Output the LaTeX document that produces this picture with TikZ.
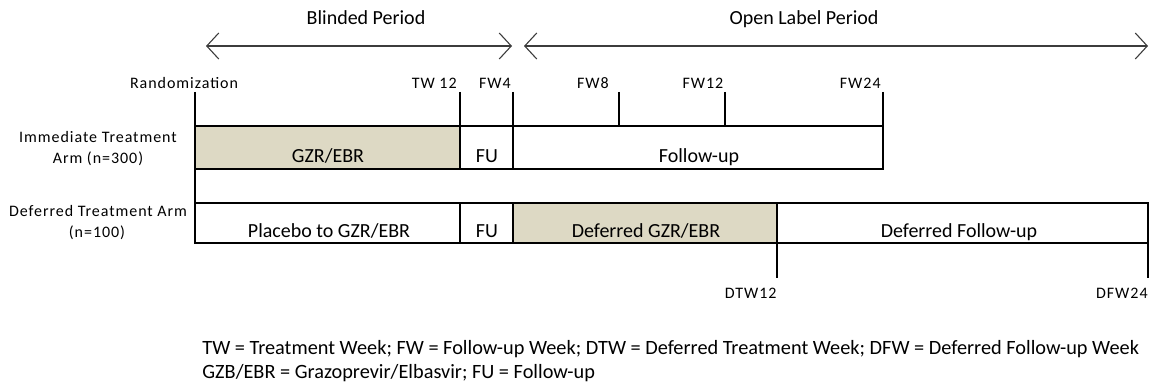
\documentclass[tikz,border=0pt]{standalone}
\usepackage{fontspec}
\setmainfont{Carlito}
\usetikzlibrary{arrows.meta}
\definecolor{drugfill}{RGB}{221,217,196}
\definecolor{periodgray}{RGB}{60,60,60}
\def\tickrow{84}
\def\ticktop{92}

\begin{document}
\begin{tikzpicture}[x=0.5pt, y=-0.5pt,
    bar/.style={line width=0.85pt},
    big/.style={font=\fontsize{10}{12}\selectfont, anchor=mid, inner sep=0pt},
    small/.style={font=\fontsize{8}{10}\selectfont\addfontfeature{LetterSpace=6}, anchor=mid, inner sep=0pt},
    note/.style={font=\fontsize{10.15}{12}\selectfont, anchor=mid west, inner sep=0pt},
    period/.style={periodgray, line width=0.55pt,
        {Straight Barb[length=6pt,width=13pt]}-{Straight Barb[length=6pt,width=13pt]}}]
    \useasboundingbox (0,0) rectangle (1149,385);
    \fill[drugfill] (195,126) rectangle (460,169);
    \fill[drugfill] (513,203) rectangle (777,243);
    \draw[bar] (195,126) rectangle (883,169);
    \draw[bar] (195,203) rectangle (1148,243);
    \draw[bar] (195,\ticktop) -- (195,243);
    \foreach \x in {460,513} \draw[bar] (\x,\ticktop) -- (\x,169) (\x,203) -- (\x,243);
    \foreach \x in {619,725} \draw[bar] (\x,\ticktop) -- (\x,126);
    \draw[bar] (883,\ticktop) -- (883,169);
    \foreach \x in {777,1148} \draw[bar] (\x,203) -- (\x,278);
    \coordinate (blindL) at (206,46);
    \coordinate (blindR) at (512,46);
    \coordinate (openL) at (524,46);
    \coordinate (openR) at (1148,46);
    \draw[period] (blindL) -- (blindR);
    \draw[period] (openL) -- (openR);
    \node[big] (blinded) at (366,20) {Blinded Period};
    \node[big] (open) at (804,20) {Open Label Period};
    \node[small] (rand) at (184,\tickrow) {Randomization};
    \node[small, anchor=mid east] (tw12) at (457,\tickrow) {TW 12};
    \node[small] (fw4) at (495,\tickrow) {FW4};
    \node[small] (fw8) at (593,\tickrow) {FW8};
    \node[small] (fw12) at (703,\tickrow) {FW12};
    \node[small, anchor=mid east] (fw24) at (881,\tickrow) {FW24};
    \node[small] (immA) at (98,138) {Immediate Treatment};
    \node[small] (immB) at (98,159) {Arm (n=300)};
    \node[small] (defA) at (98,212) {Deferred Treatment Arm};
    \node[small] (defB) at (97,233) {(n=100)};
    \node[big] (gzr) at (328,158) {GZR/EBR};
    \node[big] (fu1) at (487,158) {FU};
    \node[big] (fol) at (699,158) {Follow-up};
    \node[big] (plac) at (329,233) {Placebo to GZR/EBR};
    \node[big] (fu2) at (487,233) {FU};
    \node[big] (dgzr) at (646,233) {Deferred GZR/EBR};
    \node[big] (dfol) at (959,233) {Deferred Follow-up};
    \node[small, anchor=mid east] (dtw12) at (777,294) {DTW12};
    \node[small, anchor=mid east] (dfw24) at (1148,294) {DFW24};
    \node[note] (key1) at (202,350) {TW = Treatment Week; FW = Follow-up Week; DTW = Deferred Treatment Week; DFW = Deferred Follow-up Week};
    \node[note] (key2) at (202,374) {GZB/EBR = Grazoprevir/Elbasvir; FU = Follow-up};
\end{tikzpicture}
\end{document}
